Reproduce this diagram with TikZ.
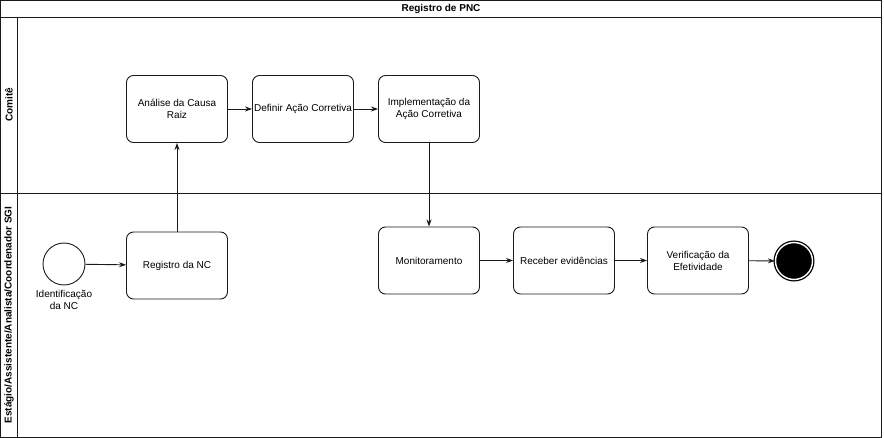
\documentclass[tikz,border=0pt]{standalone}
\usepackage{fontspec}
\setmainfont{Liberation Sans}
\usetikzlibrary{arrows.meta}
\definecolor{bpmnLine}{HTML}{1A1A1A}
\tikzset{
  task/.style={draw=bpmnLine, line width=0.9pt, rounded corners=7pt, fill=white,
    minimum width=101pt, minimum height=67pt, inner sep=1pt, align=center,
    font=\fontsize{10}{12}\selectfont},
  startev/.style={circle, draw=bpmnLine, line width=0.9pt, minimum size=42pt, inner sep=0pt},
  endev/.style={circle, fill=black, draw=black, line width=1.3pt, double=white,
    double distance=1.4pt, minimum size=37pt, inner sep=0pt},
  flow/.style={draw=bpmnLine, line width=0.9pt, -{Stealth[length=7pt,width=5pt]}},
  lanetitle/.style={font=\bfseries\fontsize{10}{12}\selectfont, rotate=90}
}
\begin{document}
\begin{tikzpicture}[x=1pt, y=-1pt]
  \useasboundingbox (0,0) rectangle (884,438);
  % pool and lanes
  \draw[bpmnLine, line width=0.9pt] (0.5,0.5) rectangle (881,437);
  \draw[bpmnLine, line width=0.9pt] (0.5,17) -- (881,17);
  \draw[bpmnLine, line width=0.9pt] (17,17) -- (17,437);
  \draw[bpmnLine, line width=0.9pt] (0.5,193) -- (881,193);
  \node[font=\bfseries\fontsize{10}{12}\selectfont] (pool) at (441,9) {Registro de PNC};
  \node[lanetitle] (comite) at (9,105) {Comitê};
  \node[lanetitle] (sgi) at (9,315) {Estágio/Assistente/Analista/Coordenador SGI};
  % events and tasks
  \node[startev] (start) at (64,264) {};
  \node[below=1pt, align=center, font=\fontsize{10}{12}\selectfont] (startlbl) at (start.south) {Identificação\\da NC};
  \node[task] (registro) at (177,265.5) {Registro da NC};
  \node[task] (analise) at (177,109) {Análise da Causa\\Raiz};
  \node[task] (definir) at (303,109) {Definir Ação Corretiva};
  \node[task] (implem) at (429,109) {Implementação da\\Ação Corretiva};
  \node[task] (monit) at (429,260.5) {Monitoramento};
  \node[task] (receber) at (564,260.5) {Receber evidências};
  \node[task] (verif) at (698,260.5) {Verificação da\\Efetividade};
  \node[endev] (fim) at (794,261) {};
  % sequence flows
  \draw[flow] (start) -- (registro);
  \draw[flow] (registro) -- (analise);
  \draw[flow] (analise) -- (definir);
  \draw[flow] (definir) -- (implem);
  \draw[flow] (implem) -- (monit);
  \draw[flow] (monit) -- (receber);
  \draw[flow] (receber) -- (verif);
  \draw[flow] (verif) -- (fim);
\end{tikzpicture}
\end{document}
